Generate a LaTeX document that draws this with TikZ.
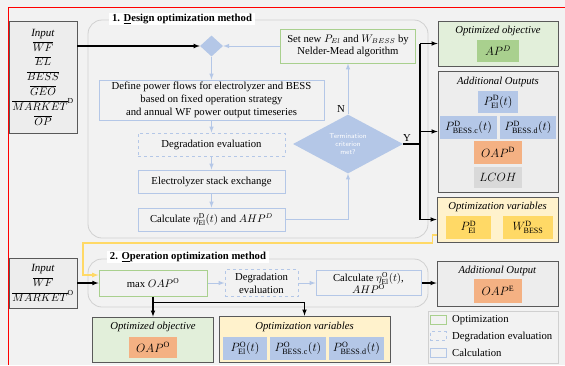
\documentclass[tikz,border=0pt]{standalone}
\usepackage{fontspec}
\setmainfont{Liberation Serif}
\usetikzlibrary{arrows,shapes.geometric}

\definecolor{bg}{HTML}{F2F2F2}
\definecolor{calcblue}{HTML}{B4C7E7}
\definecolor{optgreen}{HTML}{A9D08E}
\definecolor{objgreen}{HTML}{E2EFDA}
\definecolor{varyellow}{HTML}{FFF2CC}
\definecolor{chipyellow}{HTML}{FFD966}
\definecolor{chiporange}{HTML}{F4B183}
\definecolor{chipgray}{HTML}{D9D9D9}
\definecolor{outgray}{HTML}{EDEDED}
\definecolor{edge}{HTML}{595959}
\definecolor{groupline}{HTML}{D0D0D0}

\begin{document}
\begin{tikzpicture}[x=1pt,y=-1pt,
  font=\fontsize{10.7}{12.8}\selectfont,
  every node/.style={inner sep=0pt, align=center},
  calcbox/.style={draw=calcblue, line width=1pt, fill=bg},
  degrbox/.style={calcbox, dashed},
  optbox/.style={draw=optgreen, line width=1pt, fill=bg},
  outbox/.style={draw=edge, line width=0.8pt},
  inbox/.style={draw=edge, line width=0.8pt, fill=outgray},
  group/.style={draw=groupline, line width=0.8pt, rounded corners=14pt},
  grouptitle/.style={fill=white, inner xsep=3pt, inner ysep=1.5pt, font=\fontsize{10.7}{12.8}\selectfont\bfseries},
  chip/.style={fill=#1, font=\fontsize{11.5}{13}\selectfont},
  flow/.style={-latex, calcblue, line width=1pt},
  link/.style={-latex, black, line width=1.1pt},
  wire/.style={black, line width=1.1pt},
  feed/.style={-latex, chipyellow, line width=1.2pt}]

\fill[bg] (0,0) rectangle (565,365);
\useasboundingbox (0,0) rectangle (565,365);

\node[group, minimum width=340, minimum height=218] (design) at (258,129) {};
\node[grouptitle] (designt) at (182,19) {1. \underline{D}esign optimization method};

\node[inbox, minimum width=68, minimum height=112, font=\fontsize{11}{14.8}\selectfont] (in1) at (43,77)
  {\textit{Input}\\$\overline{WF}$\\$\overline{EL}$\\$\overline{BESS}$\\$\overline{GEO}$\\$\overline{MARKET}^{\mathrm{D}}$\\$\overline{OP}$};

\node[diamond, fill=calcblue, minimum width=23, minimum height=21] (merge) at (211.5,46) {};
\node[optbox, minimum width=135, minimum height=34] (setnew) at (348,46)
  {Set new $P_{El}$ and $W_{BESS}$ by\\Nelder-Mead algorithm};
\node[calcbox, minimum width=225, minimum height=40, font=\fontsize{10.7}{13}\selectfont] (define) at (211.5,100)
  {Define power flows for electrolyzer and BESS\\based on fixed operation strategy\\and annual WF power output timeseries};
\node[degrbox, minimum width=147, minimum height=23] (degr) at (211.5,144.5) {Degradation evaluation};
\node[calcbox, minimum width=147, minimum height=23] (elec) at (211.5,181.5) {Electrolyzer stack exchange};
\node[calcbox, minimum width=147, minimum height=23] (calc) at (211.5,219.5)
  {Calculate $\eta^{\mathrm{D}}_{\mathrm{El}}(t)$ and $AHP^{D}$};
\node[diamond, fill=calcblue, minimum width=110, minimum height=58, text=white,
  font=\sffamily\fontsize{7}{8.3}\selectfont] (term) at (348,144) {Termination\\criterion\\met?};
\node (nlab) at (341,109) {N};
\node (ylab) at (407,138) {Y};

\draw[link] (in1.east |- merge) -- (merge.west);
\draw[flow] (setnew.west) -- (merge.east);
\draw[flow] (merge.south) -- (define.north);
\draw[flow] (define.south) -- (degr.north);
\draw[flow] (degr.south) -- (elec.north);
\draw[flow] (elec.south) -- (calc.north);
\draw[flow] (calc.east) -| (term.south);
\draw[flow] (term.north) -- (setnew.south);

\node[outbox, fill=objgreen, minimum width=120, minimum height=45] (objD) at (498,43.5) {};
\node (objDt) at (498,31) {\textit{Optimized objective}};
\node[chip=optgreen, minimum width=42, minimum height=22] (apD) at (498,51) {$AP^{D}$};

\node[outbox, fill=outgray, minimum width=120, minimum height=121] (addD) at (498,131.5) {};
\node (addDt) at (498,82) {\textit{Additional Outputs}};
\node[chip=calcblue, minimum width=40, minimum height=22] (pelD) at (498,102) {$P^{\mathrm{D}}_{\mathrm{El}}(t)$};
\node[chip=calcblue, minimum width=57, minimum height=23] (pbcD) at (468.5,127.5) {$P^{\mathrm{D}}_{\mathrm{BESS.c}}(t)$};
\node[chip=calcblue, minimum width=56, minimum height=23] (pbdD) at (528,127.5) {$P^{\mathrm{D}}_{\mathrm{BESS.d}}(t)$};
\node[chip=chiporange, minimum width=48, minimum height=23] (oapD) at (498,152.5) {$OAP^{\mathrm{D}}$};
\node[chip=chipgray, minimum width=48, minimum height=21] (lcoh) at (498,177.5) {$LCOH$};

\node[outbox, fill=varyellow, minimum width=121, minimum height=45] (varD) at (497.5,219.5) {};
\node (varDt) at (497.5,207) {\textit{Optimization variables}};
\node[chip=chipyellow, minimum width=45, minimum height=23] (pelvD) at (468.5,227.5) {$P^{\mathrm{D}}_{\mathrm{El}}$};
\node[chip=chipyellow, minimum width=50, minimum height=23] (wbD) at (528,227.5) {$W^{\mathrm{D}}_{\mathrm{BESS}}$};

\coordinate (bus) at (420,144);
\draw[wire] (term.east) -- (bus);
\draw[wire] (bus |- objD) -- (bus |- varD);
\draw[link] (bus |- objD) -- (objD.west);
\draw[link] (bus |- addD) -- (addD.west);
\draw[link] (bus |- varD) -- (varD.west);

\node[group, minimum width=340, minimum height=48] (oper) at (258,283) {};
\node[grouptitle] (opert) at (188,257) {2. \underline{O}peration optimization method};

\node[inbox, minimum width=68, minimum height=50, font=\fontsize{11}{15}\selectfont] (in2) at (43,283)
  {\textit{Input}\\$\overline{WF}$\\$\overline{MARKET}^{\mathrm{O}}$};
\node[optbox, minimum width=108, minimum height=26] (max) at (153,283) {max $OAP^{\mathrm{O}}$};
\node[degrbox, minimum width=73, minimum height=27, font=\fontsize{10.7}{13}\selectfont] (degr2) at (261.5,283) {Degradation\\evaluation};
\node[calcbox, minimum width=105, minimum height=25, font=\fontsize{10.7}{12.5}\selectfont] (calc2) at (368.5,283)
  {Calculate $\eta^{\mathrm{O}}_{\mathrm{El}}(t)$,\\$AHP^{\mathrm{O}}$};

\node[outbox, fill=outgray, minimum width=121, minimum height=45] (add2) at (497.5,283.5) {};
\node (add2t) at (497.5,271) {\textit{Additional Output}};
\node[chip=chiporange, minimum width=48, minimum height=24] (oapE) at (498,291) {$OAP^{\mathrm{E}}$};

\node[outbox, fill=objgreen, minimum width=121, minimum height=45] (obj2) at (153,339.5) {};
\node (obj2t) at (153,327) {\textit{Optimized objective}};
\node[chip=chiporange, minimum width=48, minimum height=21] (oapO) at (153,347.5) {$OAP^{\mathrm{O}}$};

\node[outbox, fill=varyellow, minimum width=171, minimum height=46] (var2) at (304.5,339) {};
\node (var2t) at (304.5,327) {\textit{Optimization variables}};
\node[chip=calcblue, minimum width=44, minimum height=23] (pelO) at (245,348.5) {$P^{\mathrm{O}}_{\mathrm{El}}(t)$};
\node[chip=calcblue, minimum width=56, minimum height=23] (pbcO) at (298,348.5) {$P^{\mathrm{O}}_{\mathrm{BESS.c}}(t)$};
\node[chip=calcblue, minimum width=55, minimum height=23] (pbdO) at (356.5,348.5) {$P^{\mathrm{O}}_{\mathrm{BESS.d}}(t)$};

\coordinate (fb) at (83,243);
\draw[feed] ([yshift=-15.5pt]varD.west) -- ++(-4,0) |- (fb) |- ([yshift=8pt]max.west);
\draw[link] (in2.east) -- (max.west);
\draw[flow] (max.east) -- (degr2.west);
\draw[flow] (degr2.east) -- (calc2.west);
\draw[link] (calc2.east) -- (add2.west |- calc2);
\draw[link] (max.south) -- (obj2.north);
\draw[link] ([yshift=-6pt]max.south) -| (var2.north);

\node[draw=groupline, line width=0.8pt, minimum width=130, minimum height=52] (legend) at (493,337) {};
\node[optbox, minimum width=16, minimum height=9] (lgopt) at (438,320) {};
\node[degrbox, minimum width=16, minimum height=9] (lgdeg) at (438,336) {};
\node[calcbox, minimum width=16, minimum height=9] (lgcalc) at (438,353) {};
\node[anchor=west] (lgoptt) at (452,320) {Optimization};
\node[anchor=west] (lgdegt) at (452,336.5) {Degradation evaluation};
\node[anchor=west] (lgcalct) at (452,353) {Calculation};

\draw[red, line width=1.5pt] (8.5,365) -- (8.5,7.5) -- (565,7.5);
\end{tikzpicture}
\end{document}
